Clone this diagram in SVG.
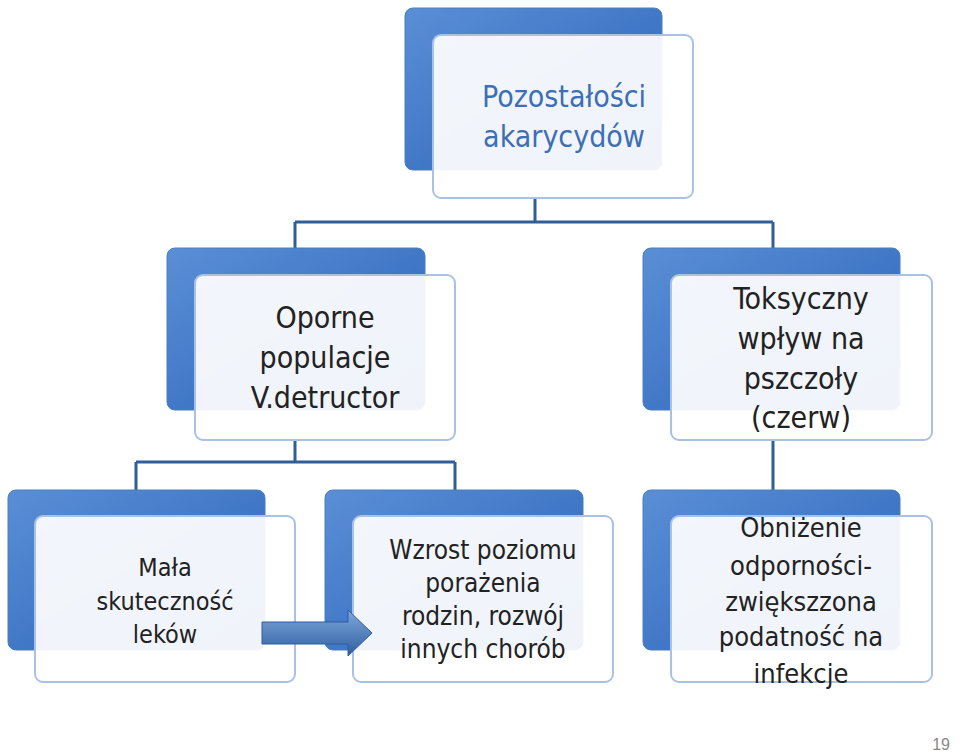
<svg xmlns="http://www.w3.org/2000/svg" width="960" height="753" viewBox="0 0 960 753">
<defs>
<linearGradient id="bg" x1="0" y1="0" x2="1" y2="1"><stop offset="0" stop-color="#5a8fd6"/><stop offset="1" stop-color="#2a62b8"/></linearGradient>
<linearGradient id="ag" x1="0" y1="0" x2="0" y2="1"><stop offset="0" stop-color="#7fa8dc"/><stop offset="1" stop-color="#2f5f9f"/></linearGradient>
</defs>
<style>
.back{fill:url(#bg);stroke:#4a7ebb;stroke-width:1}
.front{fill:#fff;fill-opacity:0.93;stroke:#a9c2e4;stroke-width:2}
.t{font-family:"DejaVu Sans Condensed","Liberation Sans",sans-serif;fill:#222;text-anchor:middle}
.c{stroke:#2e5f99;stroke-width:3;fill:none}
</style>
<rect width="960" height="753" fill="#fff"/>
<g id="connectors">
<path class="c" d="M535 198V222M295 222H773M295 222V250M773 222V250"/>
<path class="c" d="M295 440V462M136 462H455M136 462V490M455 462V490"/>
<path class="c" d="M773 440V490"/>
</g>
<g id="n1"><rect class="back" x="405" y="8" width="257" height="162" rx="8"/><rect class="front" x="433" y="35" width="260" height="163" rx="8"/>
<text class="t" style="fill:#3d6fb5" font-size="30" x="564" y="107">Pozostałości</text><text class="t" style="fill:#3d6fb5" font-size="30" x="564" y="147">akarycydów</text></g>
<g id="n2"><rect class="back" x="167" y="248" width="258" height="162" rx="8"/><rect class="front" x="195" y="275" width="260" height="165" rx="8"/>
<text class="t" font-size="30" x="325" y="328">Oporne</text><text class="t" font-size="30" x="325" y="368">populacje</text><text class="t" font-size="30" x="325" y="408">V.detructor</text></g>
<g id="n3"><rect class="back" x="643" y="248" width="257" height="162" rx="8"/><rect class="front" x="671" y="275" width="261" height="165" rx="8"/>
<text class="t" font-size="30" x="801" y="309">Toksyczny</text><text class="t" font-size="30" x="801" y="349">wpływ na</text><text class="t" font-size="30" x="801" y="389">pszczoły</text><text class="t" font-size="30" x="801" y="428">(czerw)</text></g>
<g id="n4"><rect class="back" x="8" y="490" width="257" height="160" rx="8"/><rect class="front" x="35" y="516" width="260" height="166" rx="8"/>
<text class="t" font-size="25" x="165" y="576">Mała</text><text class="t" font-size="25" x="165" y="610">skuteczność</text><text class="t" font-size="25" x="165" y="643">leków</text></g>
<g id="n5"><rect class="back" x="325" y="490" width="258" height="160" rx="8"/><rect class="front" x="353" y="516" width="260" height="166" rx="8"/>
<text class="t" font-size="26" x="483" y="559">Wzrost poziomu</text><text class="t" font-size="26" x="483" y="592">porażenia</text><text class="t" font-size="26" x="483" y="625">rodzin, rozwój</text><text class="t" font-size="26" x="483" y="658">innych chorób</text></g>
<g id="n6"><rect class="back" x="643" y="490" width="257" height="160" rx="8"/><rect class="front" x="671" y="516" width="261" height="166" rx="8"/>
<text class="t" font-size="27" x="801" y="537">Obniżenie</text><text class="t" font-size="27" x="801" y="575">odporności-</text><text class="t" font-size="27" x="801" y="611">zwiększzona</text><text class="t" font-size="27" x="801" y="646">podatność na</text><text class="t" font-size="27" x="801" y="683">infekcje</text></g>
<g id="arrow"><path d="M262 622H348V610L372 633L348 656V644H262Z" fill="url(#ag)" stroke="#2f5f9f" stroke-width="1"/></g>
<text x="950" y="750" font-family="Liberation Sans,sans-serif" font-size="16" fill="#888" text-anchor="end">19</text>
</svg>
